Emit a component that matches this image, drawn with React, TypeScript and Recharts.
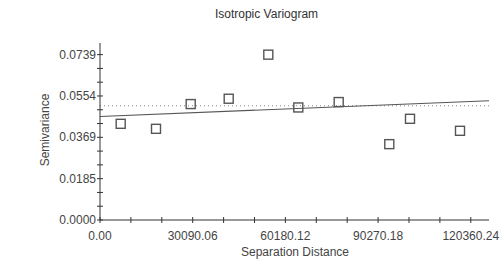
import React from 'react';
import { ComposedChart, Scatter, XAxis, YAxis, ReferenceLine } from 'recharts';

const lagDistance = [6719, 18178, 29441, 41776, 54630, 64368, 77482, 93906, 100626, 116856];
const semivariance = [0.04299, 0.04075, 0.05181, 0.05419, 0.07389, 0.05029, 0.05271, 0.0339, 0.04523, 0.03986];

const xTickValues = [0, 10030.02, 20060.04, 30090.06, 40120.08, 50150.1, 60180.12, 70210.14, 80240.16, 90270.18, 100300.2, 110330.22, 120360.24];
const xTickLabels = ['0.00', '', '', '30090.06', '', '', '60180.12', '', '', '90270.18', '', '', '120360.24'];
const yTickValues = [0, 0.006158, 0.012317, 0.018475, 0.024633, 0.030792, 0.03695, 0.043108, 0.049267, 0.055425, 0.061583, 0.067742, 0.0739];
const yTickLabels = ['0.0000', '', '', '0.0185', '', '', '0.0369', '', '', '0.0554', '', '', '0.0739'];

const xDomainMax = 126270;
const yDomainMax = 0.0791;
const sill = 0.05105;
const modelX = [0, 126270];
const modelY = [0.04626, 0.05329];

const points = lagDistance.map((x, i) => ({ x, y: semivariance[i] }));

const textColor = '#444';
const axisColor = '#333';

const XTick = (props: any) => {
  const { x, y, payload, index } = props;
  const label = xTickLabels[index] ?? '';
  return (
    <g>
      <line x1={x} x2={x} y1={y - 3} y2={y + 3} stroke={axisColor} strokeWidth={1} />
      {label && (
        <text x={x} y={y + 20} textAnchor="middle" fontSize={12} fill={textColor} fontFamily="Liberation Sans, Arial, sans-serif">
          {label}
        </text>
      )}
    </g>
  );
};

const YTick = (props: any) => {
  const { x, y, index } = props;
  const label = yTickLabels[index] ?? '';
  return (
    <g>
      <line x1={x - 3} x2={x + 3} y1={y} y2={y} stroke={axisColor} strokeWidth={1} />
      {label && (
        <text x={x - 4} y={y + 4} textAnchor="end" fontSize={12} fill={textColor} fontFamily="Liberation Sans, Arial, sans-serif">
          {label}
        </text>
      )}
    </g>
  );
};

const SquareShape = (props: any) => {
  const { cx, cy } = props;
  if (cx == null || cy == null) return null;
  return <rect x={cx - 4.5} y={cy - 4.5} width={9} height={9} fill="none" stroke="#555" strokeWidth={1.4} />;
};

export default function App() {
  return (
    <div style={{ position: 'absolute', left: 0, top: 0, width: 502, height: 259, background: '#fff', fontFamily: 'Liberation Sans, Arial, sans-serif' }}>
      <div style={{ position: 'absolute', left: 0, width: 533, top: 7, textAlign: 'center', fontSize: 12, color: '#333' }}>
        Isotropic Variogram
      </div>
      <ComposedChart width={502} height={259} margin={{ top: 43, right: 13, left: 40, bottom: 9 }}>
        <XAxis
          type="number"
          dataKey="x"
          domain={[0, xDomainMax]}
          ticks={xTickValues}
          interval={0}
          tickSize={0}
          tickMargin={0}
          tick={<XTick />}
          height={30}
          stroke={axisColor}
          allowDataOverflow
        />
        <YAxis
          type="number"
          dataKey="y"
          domain={[0, yDomainMax]}
          ticks={yTickValues}
          interval={0}
          tickSize={0}
          tickMargin={0}
          tick={<YTick />}
          width={60}
          stroke={axisColor}
          allowDataOverflow
        />
        <ReferenceLine y={sill} stroke="#888" strokeDasharray="1 3" strokeWidth={1.2} />
        <ReferenceLine
          segment={[{ x: modelX[0], y: modelY[0] }, { x: modelX[1], y: modelY[1] }]}
          stroke="#555"
          strokeWidth={1.2}
        />
        <Scatter data={points} shape={<SquareShape />} isAnimationActive={false} />
        <text x={295} y={256} textAnchor="middle" fontSize={12} fill={textColor} fontFamily="Liberation Sans, Arial, sans-serif">
          Separation Distance
        </text>
        <text x={49} y={130} textAnchor="middle" fontSize={12} fill={textColor} fontFamily="Liberation Sans, Arial, sans-serif" transform="rotate(-90 49 130)">
          Semivariance
        </text>
      </ComposedChart>
    </div>
  );
}
